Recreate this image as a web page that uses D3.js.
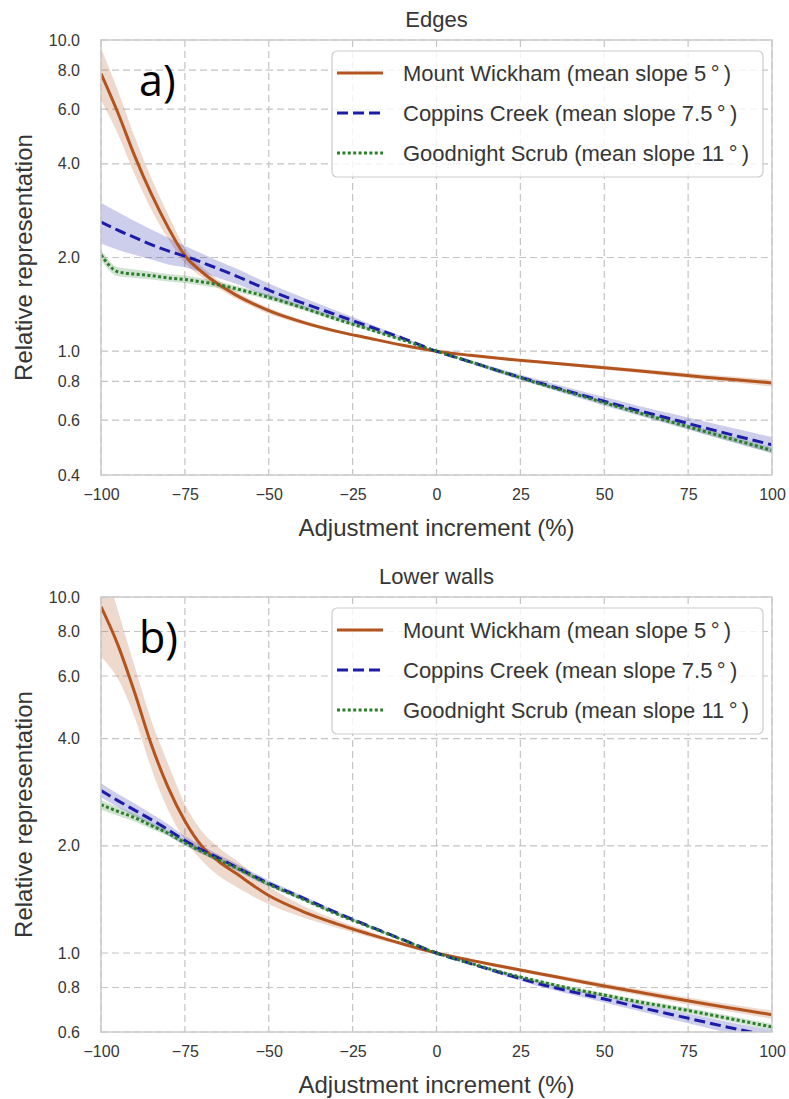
<!DOCTYPE html>
<html>
<head>
<meta charset="utf-8">
<script src="https://cdn.jsdelivr.net/npm/d3@7"></script>
<style>
  html, body { margin: 0; padding: 0; background: #fff; }
  svg { display: block; }
</style>
</head>
<body>
<svg id="chart" width="789" height="1099"></svg>
<script>
// Adjustment increments (%) at which each site's curve is sampled
const increments = [-100,-95,-90,-85,-80,-75,-70,-65,-60,-50,-40,-30,-20,-10,0,10,20,30,40,50,60,70,80,90,100];

const seriesNames = [
  "Mount Wickham (mean slope 5\u2009°\u2009)",
  "Coppins Creek (mean slope 7.5\u2009°\u2009)",
  "Goodnight Scrub (mean slope 11\u2009°\u2009)"
];

// ---- Edges ----
const edgesWickham      = [7.8,5.85,4.25,3.2,2.5,2.03,1.8,1.64,1.52,1.35,1.24,1.16,1.10,1.045,1.0,0.97,0.945,0.925,0.905,0.885,0.865,0.845,0.825,0.808,0.79];
const edgesWickhamHi    = [9.4,6.9,4.9,3.6,2.75,2.15,1.87,1.69,1.56,1.38,1.26,1.175,1.11,1.05,1.0,0.975,0.952,0.933,0.915,0.897,0.878,0.86,0.842,0.826,0.81];
const edgesWickhamLo    = [6.4,5.0,3.7,2.85,2.3,1.92,1.73,1.59,1.48,1.32,1.22,1.145,1.09,1.04,1.0,0.965,0.938,0.917,0.895,0.873,0.852,0.83,0.808,0.79,0.77];
const edgesCoppins      = [2.6,2.45,2.32,2.2,2.1,2.02,1.93,1.84,1.75,1.57,1.43,1.31,1.2,1.1,1.0,0.925,0.855,0.795,0.74,0.69,0.645,0.605,0.567,0.532,0.5];
const edgesCoppinsHi    = [3.0,2.8,2.62,2.46,2.32,2.18,2.06,1.95,1.85,1.65,1.49,1.35,1.225,1.112,1.0,0.935,0.87,0.812,0.76,0.712,0.668,0.63,0.594,0.561,0.53];
const edgesCoppinsLo    = [2.22,2.12,2.04,1.97,1.9,1.86,1.79,1.72,1.65,1.49,1.37,1.27,1.175,1.088,1.0,0.915,0.84,0.778,0.72,0.668,0.622,0.58,0.54,0.503,0.47];
const edgesGoodnight    = [2.04,1.8,1.77,1.75,1.72,1.70,1.67,1.635,1.59,1.49,1.38,1.27,1.175,1.085,1.0,0.925,0.855,0.79,0.735,0.683,0.635,0.592,0.552,0.515,0.48];
const edgesGoodnightHi  = [2.12,1.86,1.83,1.8,1.77,1.75,1.715,1.675,1.625,1.52,1.405,1.29,1.19,1.092,1.0,0.93,0.862,0.798,0.743,0.692,0.644,0.601,0.562,0.525,0.49];
const edgesGoodnightLo  = [1.96,1.74,1.72,1.70,1.675,1.655,1.625,1.595,1.555,1.46,1.355,1.25,1.16,1.078,1.0,0.92,0.848,0.782,0.727,0.674,0.626,0.583,0.542,0.505,0.47];

// ---- Lower walls ----
const wallsWickham      = [9.4,7.35,5.4,3.85,2.92,2.35,2.0,1.81,1.68,1.45,1.31,1.21,1.13,1.06,1.0,0.955,0.915,0.877,0.842,0.808,0.777,0.748,0.72,0.695,0.671];
const wallsWickhamHi    = [13.0,9.2,6.4,4.5,3.4,2.62,2.2,1.98,1.83,1.54,1.36,1.24,1.15,1.07,1.0,0.962,0.925,0.888,0.855,0.822,0.792,0.764,0.737,0.712,0.689];
const wallsWickhamLo    = [6.8,5.9,4.6,3.3,2.52,2.08,1.82,1.65,1.54,1.37,1.26,1.18,1.11,1.05,1.0,0.948,0.905,0.866,0.83,0.795,0.762,0.732,0.703,0.678,0.653];
const wallsCoppins      = [2.86,2.68,2.52,2.37,2.22,2.07,1.95,1.85,1.75,1.57,1.43,1.3,1.19,1.09,1.0,0.935,0.875,0.822,0.78,0.743,0.706,0.672,0.64,0.61,0.585];
const wallsCoppinsHi    = [3.0,2.8,2.63,2.46,2.3,2.13,2.0,1.89,1.79,1.6,1.45,1.315,1.2,1.095,1.0,0.942,0.886,0.835,0.795,0.76,0.724,0.692,0.661,0.632,0.608];
const wallsCoppinsLo    = [2.74,2.57,2.42,2.28,2.14,2.01,1.9,1.81,1.71,1.54,1.41,1.285,1.18,1.085,1.0,0.928,0.864,0.809,0.765,0.726,0.688,0.652,0.619,0.588,0.562];
const wallsGoodnight    = [2.61,2.5,2.4,2.28,2.17,2.04,1.93,1.83,1.74,1.56,1.42,1.29,1.185,1.088,1.0,0.937,0.88,0.835,0.795,0.762,0.73,0.703,0.675,0.647,0.62];
const wallsGoodnightHi  = [2.69,2.57,2.46,2.33,2.21,2.08,1.96,1.86,1.765,1.58,1.435,1.3,1.193,1.092,1.0,0.941,0.887,0.843,0.804,0.772,0.741,0.714,0.687,0.659,0.633];
const wallsGoodnightLo  = [2.53,2.43,2.34,2.23,2.13,2.0,1.9,1.8,1.715,1.54,1.405,1.28,1.177,1.084,1.0,0.933,0.873,0.827,0.786,0.752,0.719,0.692,0.663,0.635,0.607];

// Axis ticks
const xTicks = [-100,-75,-50,-25,0,25,50,75,100];
const edgesYTicks = [10,8,6,4,2,1,0.8,0.6,0.4];
const wallsYTicks = [10,8,6,4,2,1,0.8,0.6];

const colors = ["#b3541e", "#1c1ca8", "#2b7d2b"];
const dashes = [null, "11,5", "3,2.4"];

const panels = [
  { title: "Edges", tag: "a)", top: 40, bottom: 475, yDomain: [0.4, 10], yTicks: edgesYTicks,
    series: [[edgesWickham, edgesWickhamLo, edgesWickhamHi],
             [edgesCoppins, edgesCoppinsLo, edgesCoppinsHi],
             [edgesGoodnight, edgesGoodnightLo, edgesGoodnightHi]] },
  { title: "Lower walls", tag: "b)", top: 597, bottom: 1032, yDomain: [0.6, 10], yTicks: wallsYTicks,
    series: [[wallsWickham, wallsWickhamLo, wallsWickhamHi],
             [wallsCoppins, wallsCoppinsLo, wallsCoppinsHi],
             [wallsGoodnight, wallsGoodnightLo, wallsGoodnightHi]] }
];

const left = 101, right = 772;
const svg = d3.select("#chart");
const font = "'Liberation Sans', Arial, sans-serif";
const textColor = "#363636";

panels.forEach((p, pi) => {
  const x = d3.scaleLinear().domain([-100, 100]).range([left, right]);
  const y = d3.scaleLog().domain(p.yDomain).range([p.bottom, p.top]);
  const g = svg.append("g");

  const clipId = "clip" + pi;
  svg.append("defs").append("clipPath").attr("id", clipId)
    .append("rect").attr("x", left).attr("y", p.top).attr("width", right - left).attr("height", p.bottom - p.top);

  // Grid
  const grid = g.append("g").attr("stroke", "#c4c4c4").attr("stroke-width", 1.2).attr("stroke-dasharray", "7,4");
  grid.selectAll(".gx").data(xTicks).join("line")
    .attr("x1", d => x(d)).attr("x2", d => x(d)).attr("y1", p.top).attr("y2", p.bottom);
  grid.selectAll(".gy").data(p.yTicks).join("line")
    .attr("x1", left).attr("x2", right).attr("y1", d => y(d)).attr("y2", d => y(d));

  // Axes (labels only, no tick marks)
  const xAxis = g.append("g").attr("transform", `translate(0,${p.bottom})`)
    .call(d3.axisBottom(x).tickValues(xTicks).tickSize(0).tickPadding(20)
      .tickFormat(d => d < 0 ? "\u2212" + Math.abs(d) : String(d)));
  const yAxis = g.append("g").attr("transform", `translate(${left},0)`)
    .call(d3.axisLeft(y).tickValues(p.yTicks).tickSize(0).tickPadding(21).tickFormat(d3.format(".1f")));
  [xAxis, yAxis].forEach(a => {
    a.select(".domain").remove();
    a.selectAll("text").attr("font-family", font).attr("font-size", 16).attr("fill", textColor);
  });
  xAxis.selectAll("text").attr("dy", "0.3em");

  // Confidence bands
  const plot = g.append("g").attr("clip-path", `url(#${clipId})`);
  p.series.forEach((s, si) => {
    const [mean, lo, hi] = s;
    const area = d3.area().curve(d3.curveMonotoneX)
      .x((d, i) => x(increments[i])).y0((d, i) => y(lo[i])).y1((d, i) => y(hi[i]));
    plot.append("path").datum(mean).attr("d", area)
      .attr("fill", colors[si]).attr("fill-opacity", 0.22).attr("stroke", "none");
  });
  // Mean curves
  p.series.forEach((s, si) => {
    const line = d3.line().curve(d3.curveMonotoneX)
      .x((d, i) => x(increments[i])).y(d => y(d));
    plot.append("path").datum(s[0]).attr("d", line)
      .attr("fill", "none").attr("stroke", colors[si]).attr("stroke-width", 3)
      .attr("stroke-dasharray", dashes[si]);
  });

  // Frame
  g.append("rect").attr("x", left).attr("y", p.top).attr("width", right - left).attr("height", p.bottom - p.top)
    .attr("fill", "none").attr("stroke", "#cccccc").attr("stroke-width", 1.5);

  // Titles
  g.append("text").attr("x", (left + right) / 2).attr("y", p.top - 13)
    .attr("text-anchor", "middle").attr("font-family", font).attr("font-size", 22).attr("fill", textColor)
    .text(p.title);
  g.append("text").attr("x", (left + right) / 2).attr("y", p.bottom + 61)
    .attr("text-anchor", "middle").attr("font-family", font).attr("font-size", 24).attr("fill", textColor)
    .text("Adjustment increment (%)");
  g.append("text")
    .attr("transform", `translate(32,${(p.top + p.bottom) / 2}) rotate(-90)`)
    .attr("text-anchor", "middle").attr("font-family", font).attr("font-size", 24).attr("fill", textColor)
    .text("Relative representation");

  // Panel tag
  g.append("text").attr("x", left + 38).attr("y", p.top + 56)
    .attr("font-family", "'Open Sans', 'Noto Sans', sans-serif").attr("font-size", 43).attr("fill", "#000")
    .text(p.tag);

  // Legend
  const lg = g.append("g").attr("transform", `translate(332,${p.top + 11})`);
  lg.append("rect").attr("width", 431).attr("height", 126).attr("rx", 5)
    .attr("fill", "#fff").attr("fill-opacity", 0.8).attr("stroke", "#cccccc").attr("stroke-width", 1.2);
  seriesNames.forEach((name, si) => {
    const cy = 22 + si * 40;
    lg.append("line").attr("x1", 5).attr("x2", 51).attr("y1", cy).attr("y2", cy)
      .attr("stroke", colors[si]).attr("stroke-width", 3).attr("stroke-dasharray", dashes[si]);
    lg.append("text").attr("x", 71).attr("y", cy).attr("dy", "0.35em")
      .attr("font-family", font).attr("font-size", 22).attr("fill", textColor).text(name);
  });
});
</script>
</body>
</html>
